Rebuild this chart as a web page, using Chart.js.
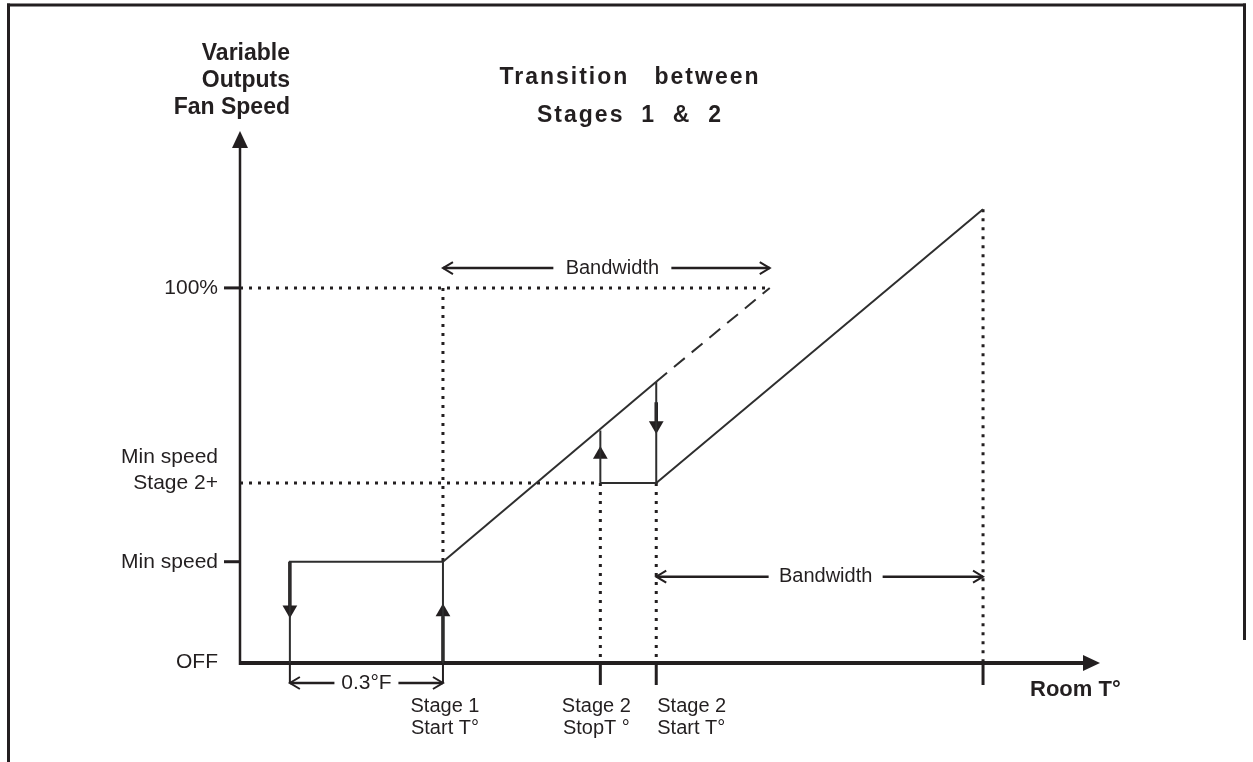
<!DOCTYPE html>
<html>
<head>
<meta charset="utf-8">
<title>Transition between Stages 1 & 2</title>
<script src="https://cdn.jsdelivr.net/npm/chart.js@4.4.1/dist/chart.umd.min.js"></script>
<style>
  html, body { margin: 0; padding: 0; background: #fff; }
  #wrap { width: 1253px; height: 762px; }
</style>
</head>
<body>
<div id="wrap"><canvas id="chart" width="1253" height="762"></canvas></div>
<script>
// Transition between Stages 1 & 2 -- fan speed vs room temperature (schematic)
// x = room temperature on a 0..100 drawing scale, y = fan output in %

const INK = '#231f20';
const LINE = '#2e2e2e';
const FONT = "'Liberation Sans', Arial, Helvetica, sans-serif";

// temperature stops: [stage 1 off, stage 1 start, stage 2 stop, stage 2 start, end bw 1, end bw 2]
const tempStops = [5.8, 23.6, 41.9, 48.4, 61.6, 86.4];
// output levels: [OFF, min speed, min speed stage 2+, 100%]
const outLevels = [0, 27, 48, 100];
const yTickLabels = [['OFF'], ['Min speed'], ['Min speed', 'Stage 2+'], ['100%']];
const xTickLabels = [['Stage 1', 'Start T°'], ['Stage 2', 'StopT °'], ['Stage 2', 'Start T°']];

// solid paths
const stage1LoopX = [5.8, 5.8, 23.6, 23.6];
const stage1LoopY = [0, 27, 27, 0];
const ramp1X = [23.6, 48.4];
const ramp1Y = [27, 75];
const stage2LoopX = [41.9, 41.9, 48.4, 48.4];
const stage2LoopY = [62, 48, 48, 75];
const ramp2X = [48.4, 86.4];
const ramp2Y = [48, 121];
// dashed continuation of ramp 1 up to 100%
const ramp1DashX = [48.4, 61.6];
const ramp1DashY = [75, 100];

// dotted guide lines, one segment per entry
const guideX = [[0, 61.6], [23.6, 23.6], [0, 41.9], [41.9, 41.9], [48.4, 48.4], [86.4, 86.4]];
const guideY = [[100, 100], [100, 27], [48, 48], [48, 0], [48, 0], [121, 0]];

// flow arrows on the vertical transitions
const flowArrowX = [5.8, 23.6, 41.9, 48.4];
const flowArrowY = [14.2, 13.6, 55.6, 63.3];
const flowArrowRot = [180, 0, 0, 180];
const shaftX = [[5.8, 5.8], [23.6, 23.6], [48.4, 48.4]];
const shaftY = [[27, 15], [0, 12.5], [69.5, 64]];

const X_MAX = 100;
const Y_MAX = 141.3;

const datasets = [];
function addLine(xs, ys, style) {
  datasets.push(Object.assign({
    data: xs.map((x, i) => ({ x: x, y: ys[i] })),
    showLine: true,
    pointRadius: 0,
    borderColor: LINE,
    borderWidth: 2,
    clip: false,
    fill: false,
    tension: 0
  }, style || {}));
}

addLine(stage1LoopX, stage1LoopY);
addLine(ramp1X, ramp1Y);
addLine(stage2LoopX, stage2LoopY);
addLine(ramp2X, ramp2Y);
addLine(ramp1DashX, ramp1DashY, { borderDash: [14, 9] });
guideX.forEach((xs, i) => addLine(xs, guideY[i], { borderColor: INK, borderWidth: 3, borderDash: [3, 6], borderCapStyle: 'butt' }));
shaftX.forEach((xs, i) => addLine(xs, shaftY[i], { borderColor: INK, borderWidth: 3.5 }));
datasets.push({
  data: flowArrowX.map((x, i) => ({ x: x, y: flowArrowY[i] })),
  showLine: false,
  pointStyle: 'triangle',
  pointRadius: 8.5,
  pointRotation: flowArrowRot,
  backgroundColor: INK,
  borderColor: INK,
  borderWidth: 0,
  clip: false
});

function text(ctx, str, x, y, opts) {
  ctx.save();
  ctx.fillStyle = INK;
  ctx.font = (opts.weight || 'normal') + ' ' + opts.size + 'px ' + FONT;
  ctx.textAlign = opts.align || 'center';
  ctx.textBaseline = opts.baseline || 'middle';
  if (opts.spacing) ctx.letterSpacing = opts.spacing + 'px';
  ctx.fillText(str, x, y);
  ctx.restore();
}

function seg(ctx, x1, y1, x2, y2, w) {
  ctx.lineWidth = w;
  ctx.beginPath();
  ctx.moveTo(x1, y1);
  ctx.lineTo(x2, y2);
  ctx.stroke();
}

// open chevron arrow head, dir = -1 points left, +1 points right
function chevron(ctx, x, y, dir) {
  ctx.lineWidth = 2;
  ctx.beginPath();
  ctx.moveTo(x - dir * 10, y - 6);
  ctx.lineTo(x, y);
  ctx.lineTo(x - dir * 10, y + 6);
  ctx.stroke();
}

// dimension line with text in the middle
function dimension(ctx, x1, x2, y, label, size, gap, shift) {
  const cx = (x1 + x2) / 2 + shift;
  ctx.strokeStyle = INK;
  seg(ctx, x1, y, cx - gap, y, 2.5);
  seg(ctx, cx + gap, y, x2, y, 2.5);
  chevron(ctx, x1, y, -1);
  chevron(ctx, x2, y, 1);
  text(ctx, label, cx, y, { size: size });
}

const decor = {
  id: 'decor',
  beforeDatasetsDraw(chart) {
    const ctx = chart.ctx;
    const xs = chart.scales.x, ys = chart.scales.y;
    const px = v => xs.getPixelForValue(v);
    const py = v => ys.getPixelForValue(v);
    ctx.save();
    ctx.strokeStyle = INK;
    ctx.fillStyle = INK;

    // frame
    seg(ctx, 8.5, 3.5, 8.5, 762, 3);
    seg(ctx, 7, 5, 1246, 5, 3);
    seg(ctx, 1244.5, 3.5, 1244.5, 640, 3);

    // axes
    const x0 = px(0), y0 = py(0);
    const yTop = py(Y_MAX), xEnd = px(X_MAX);
    seg(ctx, x0, y0 + 2, x0, yTop + 14, 2.5);
    ctx.beginPath();
    ctx.moveTo(x0, yTop - 2);
    ctx.lineTo(x0 - 8, yTop + 15);
    ctx.lineTo(x0 + 8, yTop + 15);
    ctx.closePath();
    ctx.fill();
    seg(ctx, x0 - 1, y0, xEnd - 14, y0, 4);
    ctx.beginPath();
    ctx.moveTo(xEnd, y0);
    ctx.lineTo(xEnd - 17, y0 - 8);
    ctx.lineTo(xEnd - 17, y0 + 8);
    ctx.closePath();
    ctx.fill();

    // y ticks at min speed and 100%
    [outLevels[1], outLevels[3]].forEach(v => seg(ctx, x0 - 16, py(v), x0, py(v), 3));
    // x ticks below the axis
    [tempStops[2], tempStops[3], tempStops[5]].forEach(v => seg(ctx, px(v), y0, px(v), y0 + 22, 3));
    ctx.restore();
  },
  afterDatasetsDraw(chart) {
    const ctx = chart.ctx;
    const xs = chart.scales.x, ys = chart.scales.y;
    const px = v => xs.getPixelForValue(v);
    const py = v => ys.getPixelForValue(v);
    const y0 = py(0);
    ctx.save();
    ctx.strokeStyle = INK;

    // titles
    text(ctx, 'Transition   between', 630, 84, { size: 23, weight: 'bold', baseline: 'alphabetic', spacing: 2 });
    text(ctx, 'Stages  1  &  2', 630, 122, { size: 23, weight: 'bold', baseline: 'alphabetic', spacing: 2 });
    ['Variable', 'Outputs', 'Fan Speed'].forEach((s, i) =>
      text(ctx, s, 290, 60 + i * 27, { size: 23, weight: 'bold', align: 'right', baseline: 'alphabetic' }));
    text(ctx, 'Room T°', 1030, 690, { size: 22, weight: 'bold', align: 'left' });

    // y tick labels
    outLevels.forEach((v, i) => {
      const lines = yTickLabels[i];
      const yc = i === 0 ? py(v) - 1 : py(v);
      lines.forEach((s, j) => {
        const yy = yc - (lines.length - 1 - j) * 26;
        text(ctx, s, 218, yy, { size: 21, align: 'right' });
      });
    });

    // x tick labels
    const xLabelAt = [
      { x: px(tempStops[1]) + 2, align: 'center' },
      { x: px(tempStops[2]) - 4, align: 'center' },
      { x: px(tempStops[3]) + 1, align: 'left' }
    ];
    xTickLabels.forEach((lines, i) => {
      lines.forEach((s, j) => text(ctx, s, xLabelAt[i].x, 706 + j * 22, { size: 20, align: xLabelAt[i].align }));
    });

    // 0.3°F hysteresis dimension
    const h1 = px(tempStops[0]), h2 = px(tempStops[1]);
    seg(ctx, h1, y0 + 2, h1, y0 + 20, 2);
    seg(ctx, h2, y0 + 2, h2, y0 + 20, 2);
    dimension(ctx, h1, h2, y0 + 20, '0.3°F', 21, 32, 0);

    // bandwidth dimensions
    dimension(ctx, px(tempStops[1]), px(tempStops[4]), py(105.3), 'Bandwidth', 20, 59, 6);
    dimension(ctx, px(tempStops[3]), px(tempStops[5]), py(23.0), 'Bandwidth', 20, 57, 6);
    ctx.restore();
  }
};

new Chart(document.getElementById('chart'), {
  type: 'scatter',
  data: { datasets: datasets },
  options: {
    responsive: false,
    animation: false,
    layout: { padding: { left: 240, right: 153, top: 133, bottom: 99 } },
    plugins: { legend: { display: false }, tooltip: { enabled: false } },
    scales: {
      x: { type: 'linear', min: 0, max: X_MAX, display: false },
      y: { type: 'linear', min: 0, max: Y_MAX, display: false }
    }
  },
  plugins: [decor]
});
</script>
</body>
</html>
